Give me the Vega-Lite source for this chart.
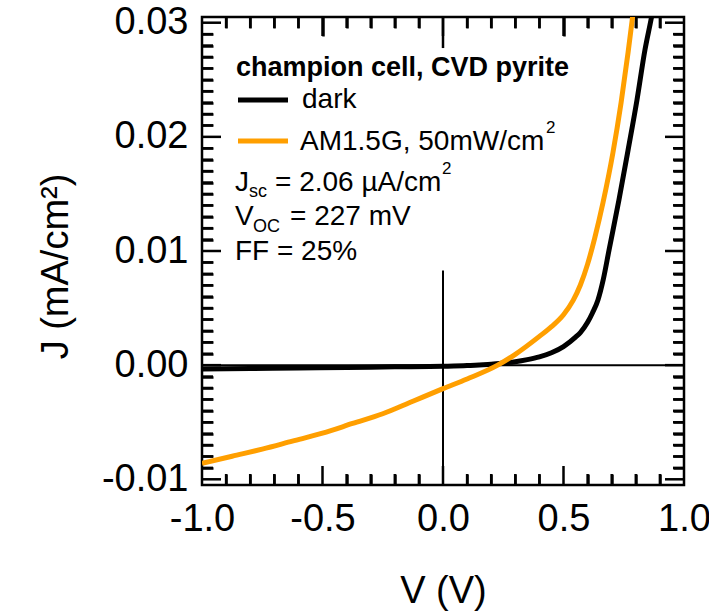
{
  "$schema": "https://vega.github.io/schema/vega-lite/v6.json",
  "width": 482,
  "height": 468,
  "autosize": {"type": "none"},
  "padding": {"left": 202, "top": 17, "right": 25, "bottom": 129},
  "background": "white",
  "config": {
    "view": {"stroke": "black", "strokeWidth": 2.5},
    "font": "Liberation Sans",
    "axis": {"grid": false, "domain": false, "labelFont": "Liberation Sans", "titleFont": "Liberation Sans", "tickColor": "black", "tickWidth": 2.5, "labelColor": "black", "titleColor": "black", "labelFlush": false, "labelOverlap": false},
    "rule": {"color": "black", "strokeWidth": 2.5}
  },
  "resolve": {"axis": {"x": "independent", "y": "independent"}},
  "datasets": {
    "dark": [
      {"V": -1.0, "J": -0.00033}, {"V": -0.8, "J": -0.00029}, {"V": -0.6, "J": -0.00025}, {"V": -0.4, "J": -0.0002},
      {"V": -0.2, "J": -0.00015}, {"V": 0.0, "J": -0.0001}, {"V": 0.1, "J": -0.00004}, {"V": 0.15, "J": 0.00002},
      {"V": 0.2, "J": 0.00008}, {"V": 0.25, "J": 0.00018}, {"V": 0.3, "J": 0.0003}, {"V": 0.35, "J": 0.00048},
      {"V": 0.4, "J": 0.00072}, {"V": 0.45, "J": 0.00108}, {"V": 0.5, "J": 0.00162}, {"V": 0.55, "J": 0.00245},
      {"V": 0.57, "J": 0.00285}, {"V": 0.6, "J": 0.00375}, {"V": 0.62, "J": 0.00457}, {"V": 0.643, "J": 0.00571},
      {"V": 0.665, "J": 0.0075}, {"V": 0.689, "J": 0.01009}, {"V": 0.73, "J": 0.01447}, {"V": 0.768, "J": 0.01885},
      {"V": 0.805, "J": 0.02324}, {"V": 0.838, "J": 0.02762}, {"V": 0.863, "J": 0.03025}, {"V": 0.868, "J": 0.0308}
    ],
    "light": [
      {"V": -1.0, "J": -0.00861}, {"V": -0.875, "J": -0.00798}, {"V": -0.75, "J": -0.00736}, {"V": -0.625, "J": -0.00666},
      {"V": -0.5, "J": -0.00596}, {"V": -0.375, "J": -0.00511}, {"V": -0.25, "J": -0.00426}, {"V": -0.125, "J": -0.00316},
      {"V": 0.0, "J": -0.00206}, {"V": 0.1, "J": -0.00121}, {"V": 0.227, "J": 0.0}, {"V": 0.3, "J": 0.00095},
      {"V": 0.4, "J": 0.00252}, {"V": 0.45, "J": 0.00337}, {"V": 0.5, "J": 0.00442}, {"V": 0.54, "J": 0.00567},
      {"V": 0.57, "J": 0.00702}, {"V": 0.6, "J": 0.00885}, {"V": 0.63, "J": 0.01118}, {"V": 0.664, "J": 0.01425},
      {"V": 0.705, "J": 0.0186}, {"V": 0.739, "J": 0.023}, {"V": 0.768, "J": 0.0274}, {"V": 0.784, "J": 0.03006},
      {"V": 0.79, "J": 0.03108}
    ],
    "hz": [{"V0": -1, "V1": 1, "J": 0}],
    "vz": [{"V": 0, "J0": 0.0083, "J1": -0.0105}],
    "xmaj": [{"V": -0.5}, {"V": 0}, {"V": 0.5}],
    "xmin": [{"V": -0.9}, {"V": -0.8}, {"V": -0.7}, {"V": -0.6}, {"V": -0.4}, {"V": -0.3}, {"V": -0.2}, {"V": -0.1},
             {"V": 0.1}, {"V": 0.2}, {"V": 0.3}, {"V": 0.4}, {"V": 0.6}, {"V": 0.7}, {"V": 0.8}, {"V": 0.9}],
    "ymaj": [{"J": -0.01}, {"J": 0}, {"J": 0.01}, {"J": 0.02}, {"J": 0.03}],
    "ymin": [{"J": -0.009}, {"J": -0.008}, {"J": -0.007}, {"J": -0.006}, {"J": -0.005}, {"J": -0.004}, {"J": -0.003}, {"J": -0.002}, {"J": -0.001},
             {"J": 0.001}, {"J": 0.002}, {"J": 0.003}, {"J": 0.004}, {"J": 0.005}, {"J": 0.006}, {"J": 0.007}, {"J": 0.008}, {"J": 0.009},
             {"J": 0.011}, {"J": 0.012}, {"J": 0.013}, {"J": 0.014}, {"J": 0.015}, {"J": 0.016}, {"J": 0.017}, {"J": 0.018}, {"J": 0.019},
             {"J": 0.021}, {"J": 0.022}, {"J": 0.023}, {"J": 0.024}, {"J": 0.025}, {"J": 0.026}, {"J": 0.027}, {"J": 0.028}, {"J": 0.029}],
    "legend": [
      {"V0": -0.85062, "V1": -0.64315, "J": 0.023234, "s": "dark"},
      {"V0": -0.85062, "V1": -0.64315, "J": 0.019642, "s": "light"}
    ],
    "bold": [{"V": -0.85892, "J": 0.025337, "t": "champion cell, CVD pyrite"}],
    "main": [
      {"V": -0.58506, "J": 0.022533, "t": "dark"},
      {"V": -0.59336, "J": 0.018854, "t": "AM1.5G, 50mW/cm"},
      {"V": -0.86307, "J": 0.015262, "t": "J"},
      {"V": -0.6971, "J": 0.015262, "t": "= 2.06 µA/cm"},
      {"V": -0.86307, "J": 0.012283, "t": "V"},
      {"V": -0.63485, "J": 0.012283, "t": "= 227 mV"},
      {"V": -0.86307, "J": 0.009217, "t": "FF = 25%"}
    ],
    "sub": [
      {"V": -0.80498, "J": 0.014736, "t": "sc"},
      {"V": -0.78838, "J": 0.01167, "t": "OC"}
    ],
    "sup": [
      {"V": -0.00415, "J": 0.016751, "t": "2"},
      {"V": 0.42739, "J": 0.020343, "t": "2"}
    ]
  },
  "layer": [
    {
      "data": {"name": "hz"},
      "mark": {"type": "rule", "strokeWidth": 2},
      "encoding": {
        "x": {"field": "V0", "type": "quantitative", "scale": {"domain": [-1, 1], "nice": false, "zero": false},
          "axis": {"orient": "bottom", "values": [-1, -0.5, 0, 0.5, 1], "ticks": false, "labelFontSize": 38, "labelPadding": 15,
            "labelExpr": "datum.value < 0 ? '-' + format(-datum.value, '.1f') : format(datum.value, '.1f')",
            "title": "V (V)", "titleFontSize": 38, "titleFontWeight": "normal", "titlePadding": 34}},
        "x2": {"field": "V1"},
        "y": {"field": "J", "type": "quantitative", "scale": {"domain": [-0.0105, 0.0305], "nice": false, "zero": false},
          "axis": {"orient": "left", "values": [-0.01, 0, 0.01, 0.02, 0.03], "ticks": false, "labelFontSize": 38, "labelPadding": 14,
            "labelExpr": "datum.value < 0 ? '-' + format(-datum.value, '.2f') : format(datum.value, '.2f')",
            "title": "J (mA/cm²)", "titleFontSize": 38, "titleFontWeight": "normal", "titlePadding": 26, "titleY": 249}}
      }
    },
    {
      "data": {"name": "vz"},
      "mark": {"type": "rule", "strokeWidth": 2},
      "encoding": {
        "x": {"field": "V", "type": "quantitative",
          "axis": {"orient": "top", "values": [-0.5, 0.5], "labels": false, "tickSize": -19, "title": null}},
        "y": {"field": "J0", "type": "quantitative", "axis": null},
        "y2": {"field": "J1"}
      }
    },
    {
      "data": {"name": "vz"},
      "mark": "rule",
      "encoding": {
        "x": {"field": "V", "type": "quantitative", "axis": null},
        "y": {"datum": 0.0305, "type": "quantitative", "axis": null},
        "y2": {"datum": 0.02778}
      }
    },
    {
      "data": {"name": "xmaj"},
      "mark": "rule",
      "encoding": {
        "x": {"field": "V", "type": "quantitative", "axis": null},
        "y": {"datum": -0.0105, "type": "quantitative", "axis": null},
        "y2": {"datum": -0.008835}
      }
    },
    {
      "data": {"name": "xmaj"},
      "mark": "rule",
      "encoding": {
        "x": {"field": "V", "type": "quantitative", "axis": null},
        "y": {"datum": 0.0305, "type": "quantitative", "axis": null},
        "y2": {"datum": 0.028835}
      }
    },
    {
      "data": {"name": "xmin"},
      "mark": "rule",
      "encoding": {
        "x": {"field": "V", "type": "quantitative", "axis": null},
        "y": {"datum": -0.0105, "type": "quantitative", "axis": null},
        "y2": {"datum": -0.009537}
      }
    },
    {
      "data": {"name": "xmin"},
      "mark": "rule",
      "encoding": {
        "x": {"field": "V", "type": "quantitative", "axis": null},
        "y": {"datum": 0.0305, "type": "quantitative", "axis": null},
        "y2": {"datum": 0.029537}
      }
    },
    {
      "data": {"name": "ymaj"},
      "mark": "rule",
      "encoding": {
        "y": {"field": "J", "type": "quantitative", "axis": null},
        "x": {"datum": -1, "type": "quantitative", "axis": null},
        "x2": {"datum": -0.92116}
      }
    },
    {
      "data": {"name": "ymaj"},
      "mark": "rule",
      "encoding": {
        "y": {"field": "J", "type": "quantitative", "axis": null},
        "x": {"datum": 1, "type": "quantitative", "axis": null},
        "x2": {"datum": 0.92116}
      }
    },
    {
      "data": {"name": "ymin"},
      "mark": "rule",
      "encoding": {
        "y": {"field": "J", "type": "quantitative", "axis": null},
        "x": {"datum": -1, "type": "quantitative", "axis": null},
        "x2": {"datum": -0.95436}
      }
    },
    {
      "data": {"name": "ymin"},
      "mark": "rule",
      "encoding": {
        "y": {"field": "J", "type": "quantitative", "axis": null},
        "x": {"datum": 1, "type": "quantitative", "axis": null},
        "x2": {"datum": 0.95436}
      }
    },
    {
      "data": {"name": "dark"},
      "mark": {"type": "line", "color": "black", "strokeWidth": 5, "interpolate": "monotone", "clip": true},
      "encoding": {
        "x": {"field": "V", "type": "quantitative", "axis": null},
        "y": {"field": "J", "type": "quantitative", "axis": null}
      }
    },
    {
      "data": {"name": "light"},
      "mark": {"type": "line", "color": "#ff9f00", "strokeWidth": 5, "interpolate": "monotone", "clip": true},
      "encoding": {
        "x": {"field": "V", "type": "quantitative", "axis": null},
        "y": {"field": "J", "type": "quantitative", "axis": null}
      }
    },
    {
      "data": {"name": "legend"},
      "mark": {"type": "rule", "strokeWidth": 5},
      "encoding": {
        "x": {"field": "V0", "type": "quantitative", "axis": null},
        "x2": {"field": "V1"},
        "y": {"field": "J", "type": "quantitative", "axis": null},
        "color": {"field": "s", "type": "nominal", "scale": {"domain": ["dark", "light"], "range": ["black", "#ff9f00"]}, "legend": null}
      }
    },
    {
      "data": {"name": "bold"},
      "mark": {"type": "text", "align": "left", "baseline": "alphabetic", "fontSize": 27, "fontWeight": "bold", "color": "black"},
      "encoding": {
        "x": {"field": "V", "type": "quantitative", "axis": null},
        "y": {"field": "J", "type": "quantitative", "axis": null},
        "text": {"field": "t"}
      }
    },
    {
      "data": {"name": "main"},
      "mark": {"type": "text", "align": "left", "baseline": "alphabetic", "fontSize": 28, "color": "black"},
      "encoding": {
        "x": {"field": "V", "type": "quantitative",
          "axis": {"orient": "bottom", "values": [-0.9, -0.8, -0.7, -0.6, -0.4, -0.3, -0.2, -0.1, 0.1, 0.2, 0.3, 0.4, 0.6, 0.7, 0.8, 0.9], "tickCount": 100, "labels": false, "tickSize": -11, "title": null}},
        "y": {"field": "J", "type": "quantitative",
          "axis": {"orient": "left", "values": [-0.009, -0.008, -0.007, -0.006, -0.005, -0.004, -0.003, -0.002, -0.001, 0.001, 0.002, 0.003, 0.004, 0.005, 0.006, 0.007, 0.008, 0.009, 0.011, 0.012, 0.013, 0.014, 0.015, 0.016, 0.017, 0.018, 0.019, 0.021, 0.022, 0.023, 0.024, 0.025, 0.026, 0.027, 0.028, 0.029], "tickCount": 100, "labels": false, "tickSize": -11, "title": null}},
        "text": {"field": "t"}
      }
    },
    {
      "data": {"name": "sub"},
      "mark": {"type": "text", "align": "left", "baseline": "alphabetic", "fontSize": 18, "color": "black"},
      "encoding": {
        "x": {"field": "V", "type": "quantitative",
          "axis": {"orient": "top", "values": [-0.9, -0.8, -0.7, -0.6, -0.4, -0.3, -0.2, -0.1, 0.1, 0.2, 0.3, 0.4, 0.6, 0.7, 0.8, 0.9], "tickCount": 100, "ticks": true, "labels": false, "tickSize": -11, "title": null}},
        "y": {"field": "J", "type": "quantitative",
          "axis": {"orient": "right", "values": [-0.009, -0.008, -0.007, -0.006, -0.005, -0.004, -0.003, -0.002, -0.001, 0.001, 0.002, 0.003, 0.004, 0.005, 0.006, 0.007, 0.008, 0.009, 0.011, 0.012, 0.013, 0.014, 0.015, 0.016, 0.017, 0.018, 0.019, 0.021, 0.022, 0.023, 0.024, 0.025, 0.026, 0.027, 0.028, 0.029], "tickCount": 100, "ticks": true, "labels": false, "tickSize": -11, "title": null}},
        "text": {"field": "t"}
      }
    },
    {
      "data": {"name": "sup"},
      "mark": {"type": "text", "align": "left", "baseline": "alphabetic", "fontSize": 17, "color": "black"},
      "encoding": {
        "x": {"field": "V", "type": "quantitative", "axis": null},
        "y": {"field": "J", "type": "quantitative", "axis": null},
        "text": {"field": "t"}
      }
    }
  ]
}
